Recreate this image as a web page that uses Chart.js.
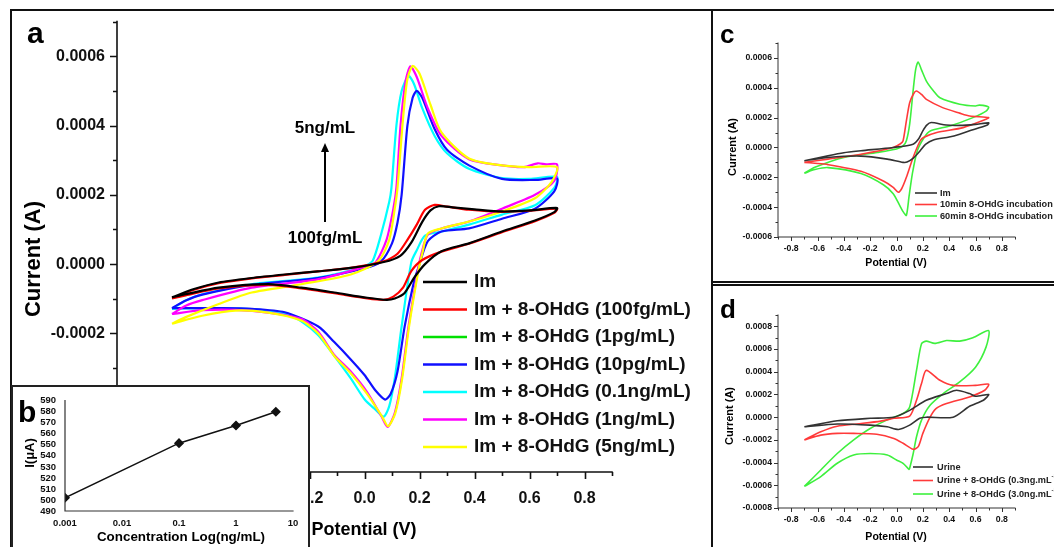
<!DOCTYPE html>
<html><head><meta charset="utf-8">
<script src="https://cdn.jsdelivr.net/npm/chart.js@4.4.1/dist/chart.umd.min.js"></script>
<style>
html,body{margin:0;padding:0;background:#fff;width:1054px;height:547px;overflow:hidden;}
canvas,.box{position:absolute;}
.box{box-sizing:border-box;border:2px solid #111;}
</style></head><body>
<canvas id="ca" style="left:0;top:0" width="712" height="547"></canvas>
<div class="box" style="left:10px;top:9px;width:703px;height:560px"></div>
<div class="box" style="left:11px;top:385px;width:299px;height:180px;background:#fff;border-color:#222"></div>
<canvas id="cb" style="left:12px;top:386px" width="297" height="161"></canvas>
<canvas id="cc" style="left:713px;top:11px" width="341" height="270"></canvas>
<canvas id="cd" style="left:713px;top:286px" width="341" height="261"></canvas>
<div class="box" style="left:711px;top:9px;width:360px;height:274px"></div>
<div class="box" style="left:711px;top:284px;width:360px;height:280px"></div>
<script>
// ---------- tick values ----------
const potentialTicks = [-0.8,-0.6,-0.4,-0.2,0,0.2,0.4,0.6,0.8];
const currentTicksA = [-0.0006,-0.0004,-0.0002,0,0.0002,0.0004,0.0006];
const currentTicksC = [-0.0006,-0.0004,-0.0002,0,0.0002,0.0004,0.0006];
const currentTicksD = [-0.0008,-0.0006,-0.0004,-0.0002,0,0.0002,0.0004,0.0006,0.0008];
const bConcTicks = [0.001,0.01,0.1,1,10];
const bCurrentTicks = [490,500,510,520,530,540,550,560,570,580,590];

// ---------- panel a : [potential V, current A] ----------
const aLabels = ['Im','Im + 8-OHdG (100fg/mL)','Im + 8-OHdG (1pg/mL)','Im + 8-OHdG (10pg/mL)','Im + 8-OHdG (0.1ng/mL)','Im + 8-OHdG (1ng/mL)','Im + 8-OHdG (5ng/mL)'];
const aIm = [[-0.70,-0.000096],[-0.62,-0.000072],[-0.53,-0.000053],[-0.41,-0.000040],[-0.29,-0.000030],[-0.17,-0.000021],[-0.05,-0.000011],[0.07,0.000006],[0.13,0.000024],[0.17,0.000062],[0.21,0.000122],[0.24,0.000155],[0.27,0.000167],[0.32,0.000164],[0.40,0.000158],[0.50,0.000152],[0.60,0.000155],[0.70,0.000162],
  [0.69,0.000150],[0.62,0.000126],[0.50,0.000094],[0.38,0.000060],[0.28,0.000037],[0.22,0.000000],[0.18,-0.000040],[0.146,-0.000083],[0.11,-0.000099],[0.08,-0.000103],[0.01,-0.000097],[-0.11,-0.000082],[-0.23,-0.000068],[-0.35,-0.000058],[-0.53,-0.000068],[-0.65,-0.000087],[-0.70,-0.000096]];
const a100fg = [[-0.70,-0.000099],[-0.62,-0.000074],[-0.53,-0.000055],[-0.41,-0.000041],[-0.29,-0.000031],[-0.17,-0.000021],[-0.05,-0.000011],[0.07,0.000008],[0.12,0.000030],[0.16,0.000075],[0.19,0.000114],[0.22,0.000157],[0.255,0.000171],[0.30,0.000166],[0.38,0.000157],[0.50,0.000151],[0.60,0.000154],[0.70,0.000160],
  [0.69,0.000148],[0.62,0.000124],[0.50,0.000092],[0.38,0.000059],[0.28,0.000036],[0.21,0.000012],[0.17,-0.000020],[0.14,-0.000068],[0.105,-0.000094],[0.07,-0.000103],[0.01,-0.000099],[-0.11,-0.000084],[-0.23,-0.000070],[-0.35,-0.000060],[-0.53,-0.000070],[-0.65,-0.000090],[-0.70,-0.000099]];
const a1pg = [];
const a10pg = [[-0.70,-0.000127],[-0.65,-0.000105],[-0.59,-0.000088],[-0.41,-0.000060],[-0.17,-0.000040],[0.0,-0.000012],[0.06,0.000008],[0.10,0.000060],[0.12,0.000120],[0.135,0.000200],[0.156,0.000400],[0.175,0.000480],[0.19,0.000500],[0.21,0.000480],[0.255,0.000390],[0.30,0.000330],[0.38,0.000285],[0.50,0.000246],[0.62,0.000243],[0.70,0.000247],
  [0.69,0.000210],[0.62,0.000160],[0.50,0.000131],[0.38,0.000103],[0.28,0.000094],[0.23,0.000066],[0.196,-0.000010],[0.18,-0.000050],[0.146,-0.000180],[0.12,-0.000310],[0.095,-0.000375],[0.075,-0.000391],[0.04,-0.000365],[0.0,-0.000320],[-0.05,-0.000275],[-0.11,-0.000225],[-0.168,-0.000180],[-0.29,-0.000139],[-0.41,-0.000129],[-0.53,-0.000127],[-0.65,-0.000127],[-0.70,-0.000127]];
const a01ng = [[-0.70,-0.000129],[-0.65,-0.000105],[-0.59,-0.000087],[-0.41,-0.000058],[-0.17,-0.000039],[0.0,-0.000006],[0.03,0.000010],[0.06,0.000085],[0.09,0.000180],[0.098,0.000220],[0.116,0.000400],[0.135,0.000500],[0.16,0.000543],[0.18,0.000520],[0.21,0.000450],[0.255,0.000370],[0.30,0.000320],[0.38,0.000275],[0.50,0.000248],[0.60,0.000246],[0.70,0.000252],
  [0.69,0.000220],[0.62,0.000170],[0.50,0.000143],[0.38,0.000114],[0.28,0.000094],[0.22,0.000082],[0.19,0.000040],[0.17,0.000005],[0.135,-0.000180],[0.11,-0.000330],[0.09,-0.000410],[0.07,-0.000440],[0.04,-0.000420],[0.0,-0.000390],[-0.05,-0.000330],[-0.11,-0.000265],[-0.168,-0.000205],[-0.23,-0.000165],[-0.29,-0.000142],[-0.41,-0.000130],[-0.53,-0.000127],[-0.65,-0.000128],[-0.70,-0.000129]];
const a1ng = [[-0.70,-0.000144],[-0.65,-0.000120],[-0.59,-0.000104],[-0.41,-0.000068],[-0.17,-0.000044],[0.0,-0.000008],[0.04,0.000005],[0.08,0.000070],[0.105,0.000160],[0.116,0.000220],[0.131,0.000400],[0.15,0.000530],[0.167,0.000571],[0.19,0.000540],[0.23,0.000450],[0.28,0.000370],[0.38,0.000303],[0.50,0.000285],[0.58,0.000280],[0.63,0.000291],[0.66,0.000288],[0.70,0.000288],
  [0.69,0.000240],[0.62,0.000200],[0.50,0.000160],[0.38,0.000123],[0.28,0.000103],[0.23,0.000085],[0.207,0.000030],[0.196,-0.000010],[0.16,-0.000180],[0.135,-0.000330],[0.11,-0.000430],[0.084,-0.000470],[0.062,-0.000440],[0.01,-0.000370],[-0.05,-0.000310],[-0.11,-0.000262],[-0.168,-0.000195],[-0.23,-0.000158],[-0.35,-0.000140],[-0.47,-0.000132],[-0.59,-0.000133],[-0.70,-0.000144]];
const a5ng = [[-0.70,-0.000172],[-0.65,-0.000153],[-0.53,-0.000115],[-0.41,-0.000082],[-0.23,-0.000058],[-0.05,-0.000030],[0.05,0.000009],[0.09,0.000070],[0.11,0.000160],[0.12,0.000220],[0.138,0.000400],[0.155,0.000530],[0.175,0.000572],[0.20,0.000550],[0.24,0.000460],[0.28,0.000380],[0.38,0.000305],[0.50,0.000285],[0.60,0.000280],[0.70,0.000280],
  [0.68,0.000237],[0.62,0.000190],[0.50,0.000152],[0.38,0.000123],[0.28,0.000103],[0.23,0.000088],[0.21,0.000030],[0.198,-0.000010],[0.162,-0.000180],[0.137,-0.000330],[0.112,-0.000430],[0.086,-0.000468],[0.064,-0.000440],[0.01,-0.000375],[-0.05,-0.000315],[-0.11,-0.000265],[-0.168,-0.000200],[-0.23,-0.000163],[-0.35,-0.000140],[-0.47,-0.000134],[-0.59,-0.000149],[-0.70,-0.000172]];

// ---------- panel b ----------
const bConc = [0.001,0.1,1,5];
const bCurrent = [502,551.5,567.5,580];

// ---------- panel c ----------
const cLabels = ['Im','10min 8-OHdG incubation','60min 8-OHdG incubation'];
const cIm = [[-0.70,-0.000089],[-0.52,-0.000055],[-0.40,-0.000035],[-0.27,-0.000022],[-0.025,0.0],[0.126,0.000022],[0.17,0.000060],[0.20,0.000111],[0.23,0.000150],[0.264,0.000167],[0.377,0.000150],[0.48,0.000148],[0.60,0.000155],[0.70,0.000165],
  [0.69,0.000150],[0.55,0.000110],[0.48,0.000089],[0.40,0.000070],[0.28,0.000050],[0.22,0.000020],[0.18,-0.000022],[0.13,-0.000070],[0.08,-0.000098],[0.05,-0.000100],[-0.07,-0.000078],[-0.27,-0.000058],[-0.52,-0.000067],[-0.70,-0.000089]];
const c10min = [[-0.70,-0.000100],[-0.52,-0.000078],[-0.27,-0.000045],[-0.025,0.0],[0.03,0.000025],[0.05,0.000045],[0.075,0.000178],[0.10,0.000300],[0.13,0.000360],[0.151,0.000378],[0.19,0.000355],[0.227,0.000322],[0.35,0.000267],[0.48,0.000230],[0.556,0.000211],[0.70,0.000200],
  [0.68,0.000189],[0.506,0.000133],[0.306,0.000100],[0.205,0.000067],[0.18,0.000045],[0.126,-0.000067],[0.075,-0.000200],[0.04,-0.000275],[0.013,-0.000300],[-0.025,-0.000267],[-0.10,-0.000225],[-0.27,-0.000160],[-0.52,-0.000115],[-0.62,-0.000106],[-0.70,-0.000100]];
const c60min = [[-0.70,-0.000173],[-0.62,-0.000133],[-0.40,-0.000067],[-0.145,-0.000033],[0.0,-0.000010],[0.05,0.000010],[0.075,0.000045],[0.10,0.000156],[0.126,0.000378],[0.145,0.000520],[0.164,0.000573],[0.19,0.000520],[0.227,0.000445],[0.28,0.000380],[0.33,0.000333],[0.48,0.000290],[0.60,0.000278],[0.63,0.000284],[0.70,0.000271],
  [0.68,0.000244],[0.58,0.000200],[0.406,0.000144],[0.256,0.000111],[0.21,0.000067],[0.158,-0.000022],[0.12,-0.000178],[0.095,-0.000330],[0.075,-0.000455],[0.05,-0.000430],[0.025,-0.000390],[-0.025,-0.000310],[-0.10,-0.000250],[-0.27,-0.000175],[-0.52,-0.000135],[-0.62,-0.000148],[-0.70,-0.000173]];

// ---------- panel d ----------
const dLabels = ['Urine','Urine + 8-OHdG (0.3ng.mL{-1})','Urine + 8-OHdG (3.0ng.mL{-1})'];
const dUrine = [[-0.70,-0.000085],[-0.45,-0.000032],[-0.20,-0.000010],[-0.02,0.0],[0.10,0.000060],[0.226,0.000149],[0.38,0.000208],[0.455,0.000237],[0.555,0.000208],[0.60,0.000184],[0.70,0.000200],
  [0.66,0.000149],[0.555,0.000096],[0.43,0.000000],[0.226,0.000000],[0.176,-0.000010],[0.10,-0.000070],[0.015,-0.000108],[-0.07,-0.000085],[-0.20,-0.000070],[-0.45,-0.000060],[-0.70,-0.000085]];
const d03ng = [[-0.70,-0.000200],[-0.575,-0.000129],[-0.45,-0.000080],[-0.30,-0.000060],[-0.12,-0.000035],[-0.02,-0.000010],[0.10,0.000010],[0.152,0.000149],[0.19,0.000296],[0.226,0.000412],[0.33,0.000325],[0.43,0.000280],[0.60,0.000280],[0.70,0.000290],
  [0.67,0.000237],[0.555,0.000178],[0.38,0.000120],[0.30,0.000076],[0.255,0.000000],[0.20,-0.000143],[0.165,-0.000260],[0.127,-0.000283],[0.05,-0.000230],[-0.02,-0.000187],[-0.15,-0.000150],[-0.325,-0.000143],[-0.45,-0.000143],[-0.575,-0.000158],[-0.70,-0.000200]];
const d30ng = [[-0.70,-0.000610],[-0.575,-0.000465],[-0.45,-0.000320],[-0.325,-0.000200],[-0.20,-0.000100],[-0.074,-0.000026],[0.05,0.000032],[0.10,0.000090],[0.152,0.000412],[0.19,0.000646],[0.226,0.000670],[0.29,0.000650],[0.38,0.000675],[0.48,0.000670],[0.58,0.000700],[0.70,0.000763],
  [0.68,0.000617],[0.60,0.000440],[0.48,0.000310],[0.355,0.000208],[0.255,0.000105],[0.19,-0.000026],[0.152,-0.000173],[0.127,-0.000320],[0.10,-0.000450],[0.095,-0.000460],[0.05,-0.000406],[0.0,-0.000377],[-0.07,-0.000333],[-0.20,-0.000320],[-0.325,-0.000333],[-0.45,-0.000406],[-0.575,-0.000523],[-0.70,-0.000610]];

// ---------- helpers ----------
const FAM = '"Liberation Sans", Arial, sans-serif';
Chart.defaults.font.family = FAM;
const pts = arr => arr.map(p => ({x:p[0], y:p[1]}));

const axesPlugin = {
  id:'axesDraw',
  afterDatasetsDraw(chart, args, o){
    if(!o || !o.on) return;
    const ctx = chart.ctx, ca = chart.chartArea, xs = chart.scales.x, ys = chart.scales.y;
    ctx.save();
    ctx.strokeStyle = o.color; ctx.lineWidth = o.width; ctx.lineCap = 'square';
    ctx.beginPath();
    ctx.moveTo(ca.left, ca.top); ctx.lineTo(ca.left, ca.bottom); ctx.lineTo(ca.right, ca.bottom);
    ctx.stroke();
    const mk = (maj, min, max) => {
      const out = [];
      const step = maj[1]-maj[0];
      maj.forEach((v,k) => { out.push([v,true]); if(k<maj.length-1) out.push([(v+maj[k+1])/2,false]); });
      const lo = maj[0]-step/2, hi = maj[maj.length-1]+step/2;
      if(lo >= min-1e-12) out.push([lo,false]);
      if(hi <= max+1e-12) out.push([hi,false]);
      return out;
    };
    if(o.majorLen > 0){
      ctx.lineCap = 'butt';
      ctx.beginPath();
      for(const [v,m] of mk(o.xMajors, xs.min, xs.max)){ const px = Math.round(xs.getPixelForValue(v))+0.5; ctx.moveTo(px, ca.bottom); ctx.lineTo(px, ca.bottom+(m?o.majorLen:o.minorLen)); }
      for(const [v,m] of mk(o.yMajors, ys.min, ys.max)){ const py = Math.round(ys.getPixelForValue(v))+0.5; ctx.moveTo(ca.left, py); ctx.lineTo(ca.left-(m?o.majorLen:o.minorLen), py); }
      ctx.stroke();
    }
    ctx.restore();
  }
};
const textPlugin = {
  id:'extraText',
  afterDraw(chart, args, o){
    if(!o) return;
    const ctx = chart.ctx;
    (o.items||[]).forEach(it => {
      ctx.save();
      ctx.font = it.font; ctx.fillStyle = it.color || '#000';
      ctx.textAlign = it.align || 'center'; ctx.textBaseline = it.base || 'middle';
      ctx.translate(it.x, it.y); if(it.rot) ctx.rotate(it.rot);
      ctx.fillText(it.t, 0, 0);
      ctx.restore();
    });
    if(o.arrow){
      const a = o.arrow;
      ctx.save();
      ctx.strokeStyle = '#000'; ctx.fillStyle = '#000'; ctx.lineWidth = 2;
      ctx.beginPath(); ctx.moveTo(a.x, a.y1); ctx.lineTo(a.x, a.y2+6); ctx.stroke();
      ctx.beginPath(); ctx.moveTo(a.x, a.y2); ctx.lineTo(a.x-4, a.y2+9); ctx.lineTo(a.x+4, a.y2+9); ctx.closePath(); ctx.fill();
      ctx.restore();
    }
  }
};
const legendPlugin = {
  id:'lineLegend',
  afterDraw(chart, args, o){
    if(!o || !o.on) return;
    const ctx = chart.ctx;
    chart.data.datasets.forEach((ds, i) => {
      const y = o.y0 + i*o.dy;
      ctx.save();
      ctx.strokeStyle = ds.borderColor; ctx.lineWidth = o.lw;
      ctx.beginPath(); ctx.moveTo(o.x, y); ctx.lineTo(o.x+o.len, y); ctx.stroke();
      ctx.fillStyle = o.color; ctx.textBaseline = 'middle'; ctx.textAlign = 'left';
      let x = o.x + o.len + o.gap;
      const parts = ds.label.split(/(\{[^}]*\})/);
      parts.forEach(p => {
        if(!p) return;
        if(p[0] === '{'){
          const s = p.slice(1,-1); ctx.font = o.supFont; ctx.fillText(s, x, y - o.supRise); x += ctx.measureText(s).width;
        } else { ctx.font = o.font; ctx.fillText(p, x, y); x += ctx.measureText(p).width; }
      });
      ctx.restore();
    });
  }
};

function cvChart(id, sets, c){
  return new Chart(document.getElementById(id), {
    type:'scatter',
    data:{datasets: sets.map(s => ({label:s.label, data:pts(s.data), borderColor:s.color, backgroundColor:s.color, showLine:true, pointRadius:0, borderWidth:c.lw, tension:0.25, order:s.order, fill:false}))},
    options:{
      responsive:false, animation:false, devicePixelRatio:1,
      layout:{padding:c.pad},
      plugins:{legend:{display:false}, tooltip:{enabled:false},
        axesDraw:{on:true, color:c.axisColor, width:c.axisW, majorLen:c.majorLen, minorLen:c.minorLen, xMajors:potentialTicks, yMajors:c.yTicks},
        extraText:{items:c.texts, arrow:c.arrow},
        lineLegend:c.legend},
      scales:{
        x:{type:'linear', min:-0.9, max:0.9, grid:{display:false, drawTicks:false}, border:{display:false},
          afterBuildTicks:s => { s.ticks = potentialTicks.map(v => ({value:v})); },
          afterFit:s => { s.height = c.xh; },
          ticks:{autoSkip:false, maxRotation:0, padding:c.xPad, color:'#111', font:{size:c.tickSize, weight:'bold'}, callback:v => Number(v).toFixed(1)}},
        y:{type:'linear', min:c.yMin, max:c.yMax, grid:{display:false, drawTicks:false}, border:{display:false},
          afterBuildTicks:s => { s.ticks = c.yTicks.map(v => ({value:v})); },
          afterFit:s => { s.width = c.yw; },
          ticks:{autoSkip:false, padding:c.yPad, color:'#111', font:{size:c.tickSize, weight:'bold'}, callback:v => Number(v).toFixed(4)}}
      }
    },
    plugins:[axesPlugin, textPlugin, legendPlugin]
  });
}

// ---------- panel a ----------
const aColors = ['#000000','#ff0000','#00e000','#1010ff','#00ffff','#ff00ff','#ffff00'];
const aOrder = [0,1,6,4,5,3,2];
cvChart('ca', [aIm,a100fg,a1pg,a10pg,a01ng,a1ng,a5ng].map((d,i) => ({label:aLabels[i], data:d, color:aColors[i], order:aOrder[i]})), {
  pad:{left:0, top:19, right:100, bottom:0}, yw:117, xh:75, lw:2.2,
  yMin:-0.0006, yMax:0.0007, yTicks:currentTicksA,
  axisColor:'#111', axisW:1.6, majorLen:7, minorLen:4, tickSize:16, xPad:17, yPad:12,
  texts:[
    {t:'a', x:27, y:43, font:'bold 30px '+FAM, align:'left', base:'alphabetic'},
    {t:'Current (A)', x:34, y:259, font:'bold 22px '+FAM, rot:-Math.PI/2},
    {t:'Potential (V)', x:364, y:530, font:'bold 18px '+FAM},
    {t:'5ng/mL', x:325, y:128, font:'bold 17px '+FAM},
    {t:'100fg/mL', x:325, y:238, font:'bold 17px '+FAM}
  ],
  arrow:{x:325, y1:222, y2:143},
  legend:{on:true, x:423, len:44, gap:7, y0:282, dy:27.5, lw:2.5, font:'bold 19px '+FAM, color:'#111'}
});

// ---------- panel b ----------
new Chart(document.getElementById('cb'), {
  type:'scatter',
  data:{datasets:[{label:'I', data:bConc.map((v,i) => ({x:v, y:bCurrent[i]})), showLine:true, borderColor:'#111', backgroundColor:'#111', borderWidth:1.5, pointStyle:'rectRot', pointRadius:4, pointBorderColor:'#111', pointBackgroundColor:'#111'}]},
  options:{
    responsive:false, animation:false, devicePixelRatio:1,
    layout:{padding:{left:0, top:10, right:16, bottom:0}},
    plugins:{legend:{display:false}, tooltip:{enabled:false},
      axesDraw:{on:true, color:'#333', width:1.2, majorLen:0, minorLen:0},
      extraText:{items:[
        {t:'b', x:6, y:36, font:'bold 30px '+FAM, align:'left', base:'alphabetic'},
        {t:'Concentration Log(ng/mL)', x:169, y:151, font:'bold 13.4px '+FAM},
        {t:'I(μA)', x:18, y:67, font:'bold 13px '+FAM, rot:-Math.PI/2}
      ]}},
    scales:{
      x:{type:'logarithmic', min:0.001, max:10, grid:{display:false, drawTicks:false}, border:{display:false},
        afterBuildTicks:s => { s.ticks = bConcTicks.map(v => ({value:v})); },
        afterFit:s => { s.height = 36; },
        ticks:{autoSkip:false, maxRotation:0, padding:7, color:'#111', font:{size:9.5, weight:'bold'}, callback:v => String(v)}},
      y:{type:'linear', min:490, max:590, grid:{display:false, drawTicks:false}, border:{display:false},
        afterBuildTicks:s => { s.ticks = bCurrentTicks.map(v => ({value:v})); },
        afterFit:s => { s.width = 53; },
        ticks:{autoSkip:false, padding:9, color:'#111', font:{size:9.5, weight:'bold'}, callback:v => String(v)}}
    }
  },
  plugins:[axesPlugin, textPlugin]
});

// ---------- panel c ----------
const cColors = ['#333333','#ff3a3a','#3ef03e'];
cvChart('cc', [cIm,c10min,c60min].map((d,i) => ({label:cLabels[i], data:d, color:cColors[i], order:i})), {
  pad:{left:0, top:32, right:39, bottom:0}, yw:65, xh:44, lw:1.6,
  yMin:-0.0006, yMax:0.0007, yTicks:currentTicksC,
  axisColor:'#333', axisW:1, majorLen:4, minorLen:2.5, tickSize:8.7, xPad:6, yPad:6,
  texts:[
    {t:'c', x:7, y:32, font:'bold 26px '+FAM, align:'left', base:'alphabetic'},
    {t:'Current (A)', x:20, y:136, font:'bold 11px '+FAM, rot:-Math.PI/2},
    {t:'Potential (V)', x:183, y:252, font:'bold 10.5px '+FAM}
  ],
  legend:{on:true, x:202, len:22, gap:3, y0:182, dy:11.5, lw:1.6, font:'bold 9.2px '+FAM, color:'#222'}
});

// ---------- panel d ----------
cvChart('cd', [dUrine,d03ng,d30ng].map((d,i) => ({label:dLabels[i], data:d, color:cColors[i], order:i})), {
  pad:{left:0, top:29, right:39, bottom:0}, yw:65, xh:39, lw:1.6,
  yMin:-0.0008, yMax:0.0009, yTicks:currentTicksD,
  axisColor:'#333', axisW:1, majorLen:4, minorLen:2.5, tickSize:8.7, xPad:6, yPad:6,
  texts:[
    {t:'d', x:7, y:32, font:'bold 26px '+FAM, align:'left', base:'alphabetic'},
    {t:'Current (A)', x:17, y:130, font:'bold 11px '+FAM, rot:-Math.PI/2},
    {t:'Potential (V)', x:183, y:251, font:'bold 10.5px '+FAM}
  ],
  legend:{on:true, x:200, len:20, gap:4, y0:181, dy:13.5, lw:1.6, font:'bold 9.2px '+FAM, supFont:'bold 6px '+FAM, supRise:4, color:'#222'}
});
</script>
</body></html>
